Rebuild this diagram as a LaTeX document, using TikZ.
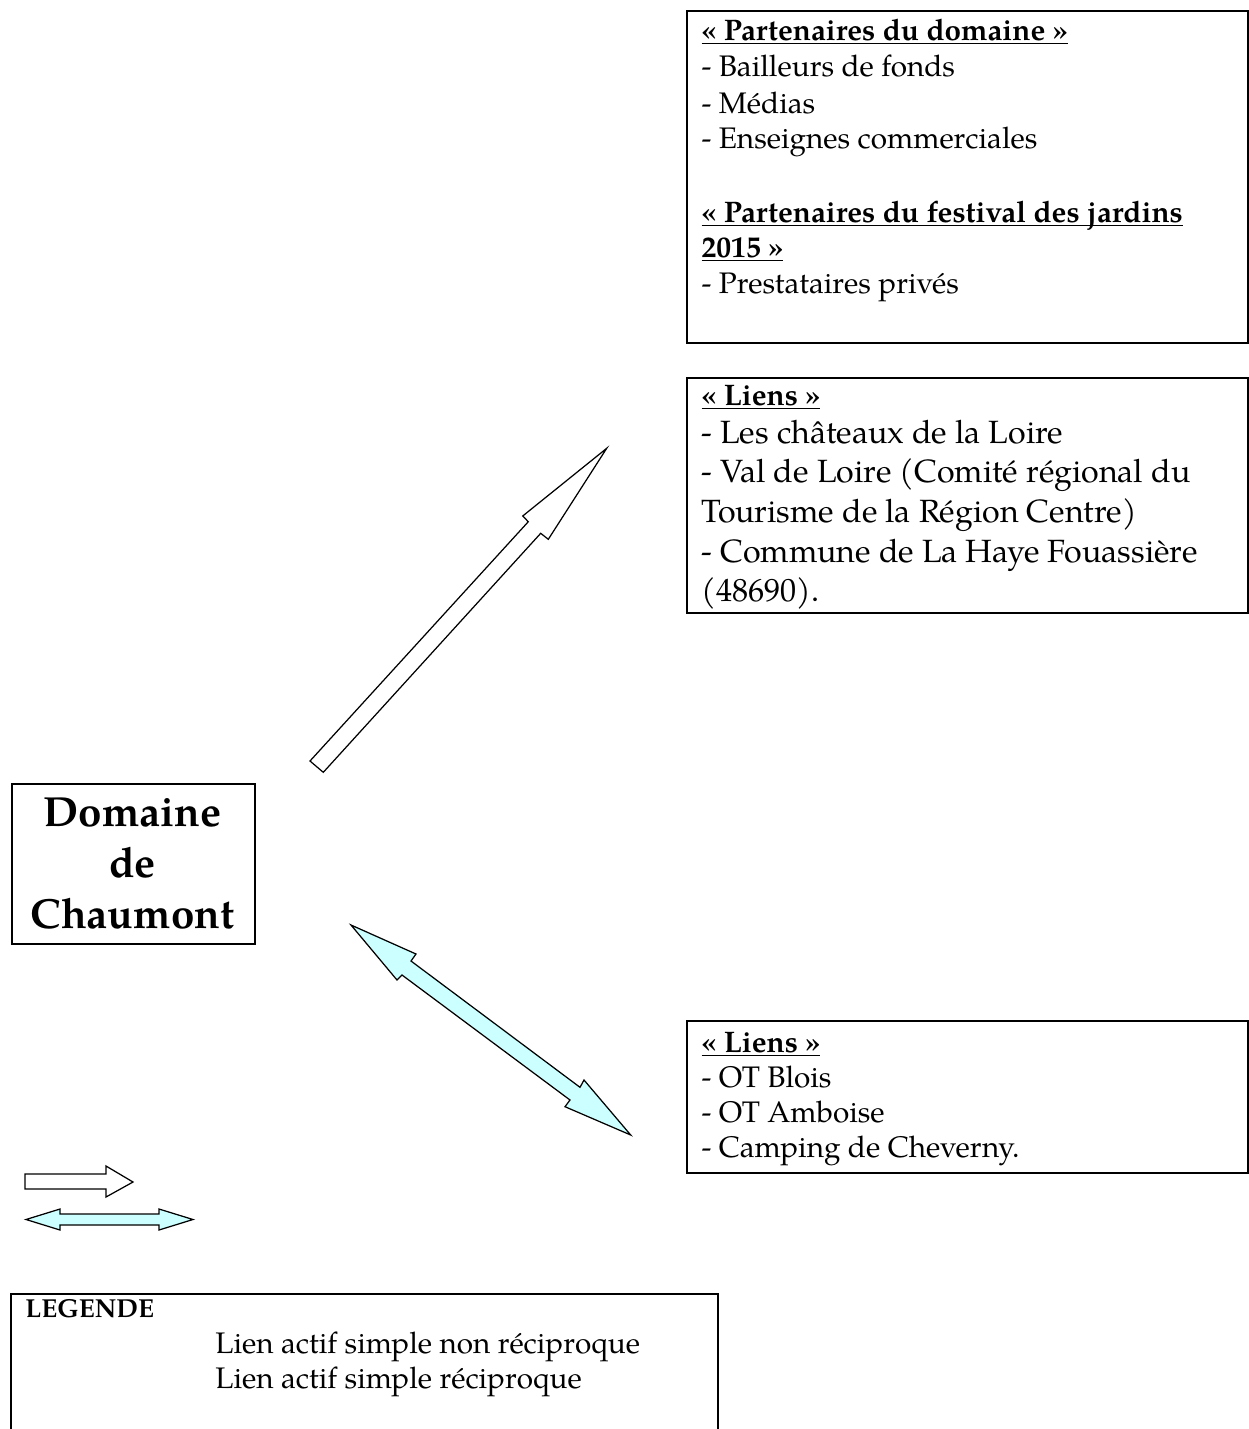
\documentclass[tikz,border=0pt]{standalone}
\usepackage{fontspec}
\setmainfont{TeX Gyre Pagella}
\newcommand\myul[1]{\setbox0\hbox{#1}\rlap{\rule[-1.8pt]{\wd0}{0.6pt}}\box0}
\definecolor{lightcyan}{HTML}{CCFFFF}
\tikzset{
  boxst/.style={draw, line width=0.8pt, anchor=north west, inner sep=0pt},
  txt/.style={anchor=base west, inner sep=0pt, font=\fontsize{12}{14}\selectfont},
  bigtxt/.style={anchor=base west, inner sep=0pt, font=\fontsize{13}{15.7}\selectfont},
  hd/.style={anchor=base west, inner sep=0pt, font=\bfseries\fontsize{12}{14}\selectfont},
  dom/.style={anchor=base, inner sep=0pt, font=\bfseries\fontsize{17}{20.5}\selectfont},
  whitearrow/.style={draw, line width=0.5pt, fill=white, line join=miter},
  cyanarrow/.style={draw, line width=0.5pt, fill=lightcyan, line join=miter}
}
\begin{document}
\begin{tikzpicture}[x=0.404pt,y=-0.404pt]
\useasboundingbox (0,0) rectangle (1249,1429);

% ---- box 1 : partenaires
\node[boxst, minimum width=226.6pt, minimum height=134.1pt] (partners) at (686,10) {};
\node[hd]  (p1) at (701,40)  {\myul{« Partenaires du domaine »}};
\node[txt] (p2) at (701,76)  {- Bailleurs de fonds};
\node[txt] (p3) at (701,113) {- Médias};
\node[txt] (p4) at (701,148) {- Enseignes commerciales};
\node[hd]  (p5) at (701,222) {\myul{« Partenaires du festival des jardins}};
\node[hd]  (p6) at (701,257) {\myul{2015 »}};
\node[txt] (p7) at (701,293) {- Prestataires privés};

% ---- box 2 : liens (haut)
\node[boxst, minimum width=226.6pt, minimum height=94.9pt] (liens1) at (686,377) {};
\node[hd]     (q1) at (701,405) {\myul{« Liens »}};
\node[bigtxt] (q2) at (701,443) {- Les châteaux de la Loire};
\node[bigtxt] (q3) at (701,482) {- Val de Loire (Comité régional du};
\node[bigtxt] (q4) at (701,522) {Tourisme de la Région Centre)};
\node[bigtxt] (q5) at (701,562) {- Commune de La Haye Fouassière};
\node[bigtxt] (q6) at (701,601) {(48690).};

% ---- box 3 : liens (bas)
\node[boxst, minimum width=226.6pt, minimum height=61.4pt] (liens2) at (686,1020) {};
\node[hd]  (r1) at (701,1052) {\myul{« Liens »}};
\node[txt] (r2) at (701,1087) {- OT Blois};
\node[txt] (r3) at (701,1122) {- OT Amboise};
\node[txt] (r4) at (701,1157) {- Camping de Cheverny.};

% ---- domaine
\node[boxst, minimum width=98.2pt, minimum height=64.6pt] (domaine) at (11,783) {};
\node[dom] (d1) at (132.5,826) {Domaine};
\node[dom] (d2) at (132.5,877) {de};
\node[dom] (d3) at (132.5,928) {Chaumont};

% ---- legend
\node[boxst, minimum width=285.6pt, minimum height=70pt] (legend) at (10,1293) {};
\node[anchor=base west, inner sep=0pt, font=\bfseries\fontsize{10.5}{12}\selectfont] (lg) at (25,1317) {LEGENDE};
\node[txt] (lg1) at (215,1353) {Lien actif simple non réciproque};
\node[txt] (lg2) at (215,1388) {Lien actif simple réciproque};

% ---- big white arrow
\coordinate (wa1) at (310,761);
\coordinate (wa2) at (528.3,521.7);
\coordinate (wa3) at (522.7,516);
\coordinate (wa4) at (606.7,448.3);
\coordinate (wa5) at (548.3,539.3);
\coordinate (wa6) at (540.7,533.3);
\coordinate (wa7) at (323.3,772.3);
\draw[whitearrow] (wa1) -- (wa2) -- (wa3) -- (wa4) -- (wa5) -- (wa6) -- (wa7) -- cycle;

% ---- big cyan double arrow
\coordinate (ca1) at (351,925);
\coordinate (ca2) at (416,954);
\coordinate (ca3) at (411,961);
\coordinate (ca4) at (580,1087.3);
\coordinate (ca5) at (584,1080);
\coordinate (ca6) at (630.7,1135);
\coordinate (ca7) at (565,1106.7);
\coordinate (ca8) at (570,1100);
\coordinate (ca9) at (402,975);
\coordinate (ca10) at (397,980);
\draw[cyanarrow] (ca1) -- (ca2) -- (ca3) -- (ca4) -- (ca5) -- (ca6) -- (ca7) -- (ca8) -- (ca9) -- (ca10) -- cycle;

% ---- legend arrows
\coordinate (lw1) at (25,1174);
\coordinate (lw2) at (106,1174);
\coordinate (lw3) at (106,1166);
\coordinate (lw4) at (133,1182);
\coordinate (lw5) at (106,1197);
\coordinate (lw6) at (106,1189);
\coordinate (lw7) at (25,1189);
\draw[whitearrow] (lw1) -- (lw2) -- (lw3) -- (lw4) -- (lw5) -- (lw6) -- (lw7) -- cycle;

\coordinate (lc1) at (26,1219.5);
\coordinate (lc2) at (60,1209);
\coordinate (lc3) at (60,1214);
\coordinate (lc4) at (159,1214);
\coordinate (lc5) at (159,1209);
\coordinate (lc6) at (193,1219.5);
\coordinate (lc7) at (159,1230);
\coordinate (lc8) at (159,1225);
\coordinate (lc9) at (60,1225);
\coordinate (lc10) at (60,1230);
\draw[cyanarrow] (lc1) -- (lc2) -- (lc3) -- (lc4) -- (lc5) -- (lc6) -- (lc7) -- (lc8) -- (lc9) -- (lc10) -- cycle;
\end{tikzpicture}
\end{document}
